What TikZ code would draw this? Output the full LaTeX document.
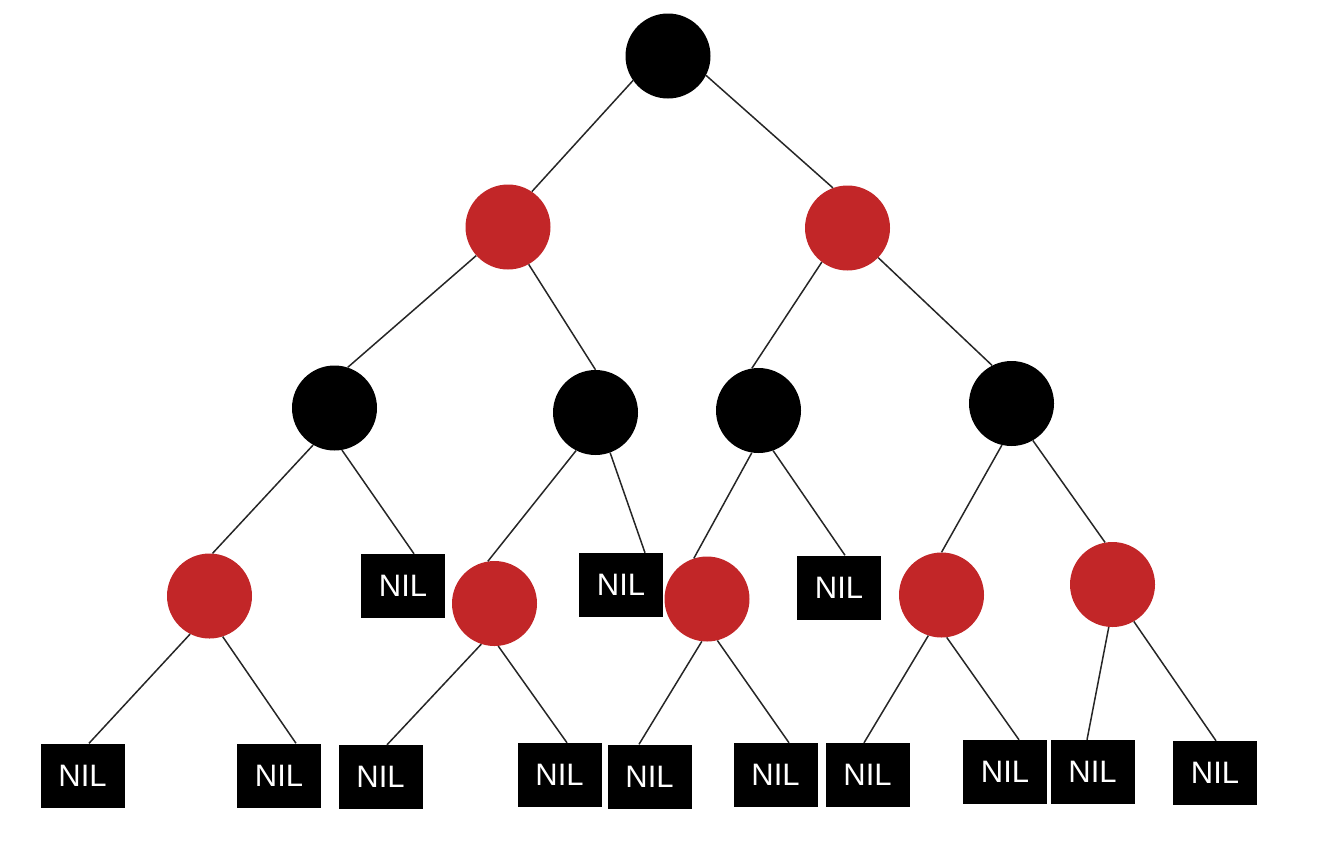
\documentclass[tikz,border=0pt]{standalone}
\usepackage{fontspec}
\setmainfont{Liberation Sans}
\usepackage[rgb]{xcolor}
\definecolor{rbred}{RGB}{194,38,40}

\begin{document}
\begin{tikzpicture}[x=1pt,y=-1pt,
	blk/.style={circle,fill=black,minimum size=85pt,inner sep=0pt},
	rd/.style={circle,fill=rbred,minimum size=85pt,inner sep=0pt},
	nil/.style={fill=black,text=white,minimum width=84pt,minimum height=64pt,inner sep=0pt,font=\fontsize{31}{31}\selectfont},
	lnk/.style={draw=black!85,line width=1.5pt}]
	\useasboundingbox (0,0) rectangle (1324,844);
	% levels 0 to 2
	\node[blk] (r) at (668,56) {};
	\node[rd] (a) at (508,227) {};
	\node[rd] (b) at (847.5,228) {};
	\node[blk] (c) at (334.5,408) {};
	\node[blk] (d) at (595.5,412.5) {};
	\node[blk] (e) at (758.5,410.5) {};
	\node[blk] (f) at (1011.5,403.5) {};
	% level 3
	\node[rd] (g) at (209.5,596) {};
	\node[nil] (nc) at (403,586) {NIL};
	\node[rd] (h) at (494.5,603.5) {};
	\node[nil] (nd) at (621,585) {NIL};
	\node[rd] (i) at (707,599) {};
	\node[nil] (ne) at (839,587.5) {NIL};
	\node[rd] (j) at (941.5,595) {};
	\node[rd] (k) at (1112.5,584.5) {};
	% leaves
	\node[nil] (n1) at (82.5,775.5) {NIL};
	\node[nil] (n2) at (279,775.5) {NIL};
	\node[nil] (n3) at (380.5,777) {NIL};
	\node[nil] (n4) at (559.5,775) {NIL};
	\node[nil] (n5) at (649.5,776.5) {NIL};
	\node[nil] (n6) at (775.5,775) {NIL};
	\node[nil] (n7) at (867.5,775) {NIL};
	\node[nil] (n8) at (1005,772) {NIL};
	\node[nil] (n9) at (1092.5,772) {NIL};
	\node[nil] (n10) at (1215,773) {NIL};
	% edges
	\draw[lnk] (r.215) -- (a.56);
	\draw[lnk] (r.-27) -- (b.110);
	\draw[lnk] (a.222) -- (c.72);
	\draw[lnk] (a.-61) -- (d.90);
	\draw[lnk] (b.233) -- (e.99);
	\draw[lnk] (b.-44) -- (f.117);
	\draw[lnk] (c.240) -- (g.86);
	\draw[lnk] (c.-80) -- ([xshift=11pt]nc.north);
	\draw[lnk] (d.243) -- (h.99);
	\draw[lnk] (d.-70) -- ([xshift=24pt]nd.north);
	\draw[lnk] (e.-99) -- (i.108);
	\draw[lnk] (e.-70) -- ([xshift=6pt]ne.north);
	\draw[lnk] (f.-103) -- (j.90);
	\draw[lnk] (f.-60) -- (k.100);
	\draw[lnk] (g.243) -- ([xshift=6.5pt]n1.north);
	\draw[lnk] (g.-72) -- ([xshift=17pt]n2.north);
	\draw[lnk] (h.-108) -- ([xshift=6.5pt]n3.north);
	\draw[lnk] (h.-85) -- ([xshift=7.5pt]n4.north);
	\draw[lnk] (i.-97) -- ([xshift=-10.5pt]n5.north);
	\draw[lnk] (i.-76) -- ([xshift=13.5pt]n6.north);
	\draw[lnk] (j.-108) -- ([xshift=-3.5pt]n7.north);
	\draw[lnk] (j.-83) -- ([xshift=14pt]n8.north);
	\draw[lnk] (k.-95) -- ([xshift=-5.5pt]n9.north);
	\draw[lnk] (k.-60) -- ([xshift=1pt]n10.north);
\end{tikzpicture}
\end{document}
